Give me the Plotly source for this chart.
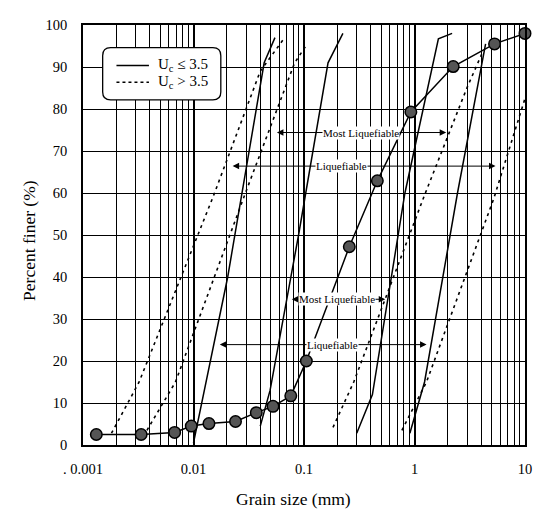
import math
import plotly.graph_objects as go

# ---------------- data ----------------
grain_size = [0.00132, 0.00336, 0.00675, 0.00955, 0.0138, 0.0240, 0.0370, 0.0524,
              0.0759, 0.105, 0.257, 0.461, 0.927, 2.24, 5.30, 10.0]
percent_finer = [2.5, 2.5, 3.0, 4.5, 5.1, 5.6, 7.7, 9.2,
                 11.7, 20.0, 47.2, 62.9, 79.3, 90.1, 95.5, 98.0]

# Uc <= 3.5 (solid) boundaries
solid_liq_left_x = [0.0100, 0.0130, 0.0204, 0.0436, 0.0546]
solid_liq_left_y = [0.5, 15, 40, 91, 97]
solid_most_left_x = [0.0402, 0.0493, 0.0893, 0.165, 0.225]
solid_most_left_y = [4.5, 13, 50, 91, 98]
solid_most_right_x = [0.300, 0.416, 0.819, 1.645, 2.19]
solid_most_right_y = [2.8, 12, 60, 96.7, 98]
solid_liq_right_x = [0.908, 1.233, 2.45, 4.40]
solid_liq_right_y = [2.8, 15, 60, 95.5]

# Uc > 3.5 (dashed) boundaries
dashed_liq_left_x = [0.00181, 0.00322, 0.0150, 0.0402, 0.0656]
dashed_liq_left_y = [2.8, 15, 59, 89, 96.7]
dashed_most_left_x = [0.00379, 0.00687, 0.0295, 0.0823, 0.107]
dashed_most_left_y = [3.5, 15, 60, 91, 95.5]
dashed_most_right_x = [0.183, 0.282, 1.233, 2.98, 4.05]
dashed_most_right_y = [4.2, 15, 59.5, 85, 93]
dashed_liq_right_x = [0.769, 1.284, 5.19, 10.0]
dashed_liq_right_y = [3.5, 15, 58.5, 82.5]

x_tick_vals = [0.001, 0.01, 0.1, 1, 10]
x_tick_text = [". 0.001", "0.01", "0.1", "1", "10"]
y_tick_vals = [0, 10, 20, 30, 40, 50, 60, 70, 80, 90, 100]

FONT = "Liberation Serif, Times New Roman, serif"

fig = go.Figure()

solid_sets = [(solid_liq_left_x, solid_liq_left_y), (solid_most_left_x, solid_most_left_y),
              (solid_most_right_x, solid_most_right_y), (solid_liq_right_x, solid_liq_right_y)]
dashed_sets = [(dashed_liq_left_x, dashed_liq_left_y), (dashed_most_left_x, dashed_most_left_y),
               (dashed_most_right_x, dashed_most_right_y), (dashed_liq_right_x, dashed_liq_right_y)]

for xs, ys in solid_sets:
    fig.add_trace(go.Scatter(x=xs, y=ys, mode="lines",
                             line=dict(color="black", width=1.5), showlegend=False,
                             hoverinfo="skip"))
for xs, ys in dashed_sets:
    fig.add_trace(go.Scatter(x=xs, y=ys, mode="lines",
                             line=dict(color="black", width=1.6, dash="3px,4px"),
                             showlegend=False, hoverinfo="skip"))

fig.add_trace(go.Scatter(x=grain_size, y=percent_finer, mode="lines+markers",
                         line=dict(color="black", width=1.5),
                         marker=dict(size=11.5, color="#555555", line=dict(color="black", width=1.5)),
                         cliponaxis=False, showlegend=False))

# ---------------- annotations (double arrows) ----------------
arrows = [
    # (left head log10, right head log10, text centre log10, y, text)
    (-1.245, 0.287, -0.488, 74.4, "Most Liquefiable"),
    (-1.646, 0.733, -0.657, 66.4, "Liquefiable"),
    (-1.111, -0.265, -0.702, 34.7, "Most Liquefiable"),
    (-1.762, 0.109, -0.746, 23.9, "Liquefiable"),
]
annotations = []
for lx, rx, cx, yy, txt in arrows:
    for hx in (lx, rx):
        annotations.append(dict(x=hx, y=yy, ax=cx, ay=yy, xref="x", yref="y",
                                axref="x", ayref="y", text="", showarrow=True,
                                arrowhead=2, arrowsize=1.3, arrowwidth=1,
                                arrowcolor="black", standoff=0, startstandoff=0))
    annotations.append(dict(x=cx, y=yy, xref="x", yref="y", text=txt, showarrow=False,
                            font=dict(family=FONT, size=11, color="black"),
                            bgcolor="white", borderpad=0))

# axis titles
annotations.append(dict(x=0.477, y=-0.129, xref="paper", yref="paper", text="Grain size (mm)",
                        showarrow=False, font=dict(family=FONT, size=17.5, color="black"),
                        xanchor="center", yanchor="middle"))
annotations.append(dict(x=-0.1225, y=0.488, xref="paper", yref="paper", text="Percent finer (%)",
                        showarrow=False, textangle=-90,
                        font=dict(family=FONT, size=17.5, color="black"),
                        xanchor="center", yanchor="middle"))

# legend (custom, rounded box)
L, R, B, T = 0.0445, 0.3118, 0.8216, 0.946
rx_, ry_ = 0.018, 0.019
box_path = (f"M {L+rx_},{T} L {R-rx_},{T} Q {R},{T} {R},{T-ry_} L {R},{B+ry_} "
            f"Q {R},{B} {R-rx_},{B} L {L+rx_},{B} Q {L},{B} {L},{B+ry_} "
            f"L {L},{T-ry_} Q {L},{T} {L+rx_},{T} Z")
shapes = [
    dict(type="path", xref="paper", yref="paper", path=box_path,
         line=dict(color="black", width=1.3), fillcolor="white", layer="above"),
    dict(type="line", xref="paper", yref="paper", x0=0.0757, x1=0.1492, y0=0.9038, y1=0.9038,
         line=dict(color="black", width=1.5), layer="above"),
    dict(type="line", xref="paper", yref="paper", x0=0.0757, x1=0.1492, y0=0.8638, y1=0.8638,
         line=dict(color="black", width=1.6, dash="3px,3px"), layer="above"),
]
annotations.append(dict(x=0.1648, y=0.9038, xref="paper", yref="paper",
                        text="U<sub>c</sub> ≤ 3.5", showarrow=False, xanchor="left",
                        yanchor="middle", font=dict(family=FONT, size=15, color="black")))
annotations.append(dict(x=0.1648, y=0.8638, xref="paper", yref="paper",
                        text="U<sub>c</sub> > 3.5", showarrow=False, xanchor="left",
                        yanchor="middle", font=dict(family=FONT, size=15, color="black")))

minor_vals = [k * 10 ** e for e in range(-3, 1) for k in range(2, 10)]

fig.update_layout(
    width=533, height=508,
    margin=dict(l=75, r=9, t=11, b=71),
    paper_bgcolor="white", plot_bgcolor="white",
    showlegend=False,
    annotations=annotations,
    shapes=shapes,
    font=dict(family=FONT, color="black"),
    xaxis=dict(type="log", range=[-3, 1], tickvals=x_tick_vals, ticktext=x_tick_text,
               showgrid=True, gridcolor="black", gridwidth=1.6,
               minor=dict(tickvals=minor_vals, showgrid=True, gridcolor="black", gridwidth=1,
                          ticks=""),
               showline=True, linecolor="black", linewidth=1.6, mirror=True,
               ticks="", ticklabelstandoff=10, zeroline=False,
               tickfont=dict(family=FONT, size=14.5, color="black")),
    yaxis=dict(range=[0, 100], tickvals=y_tick_vals, showgrid=True, gridcolor="black",
               gridwidth=1.1, showline=True, linecolor="black", linewidth=1.6, mirror=True,
               ticks="", ticklabelstandoff=11, zeroline=False,
               tickfont=dict(family=FONT, size=14.5, color="black")),
)

fig.write_html("out.html")
